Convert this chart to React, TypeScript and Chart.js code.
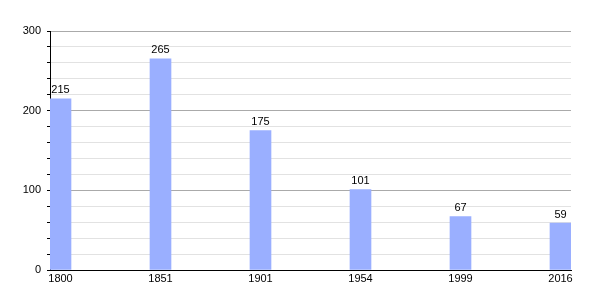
import React, { useEffect, useRef } from "react";
import { Chart, registerables } from "chart.js";

Chart.register(...registerables);

const years = ["1800", "1851", "1901", "1954", "1999", "2016"];
const population = [215, 265, 175, 101, 67, 59];
const yTickStep = 20;
const yMax = 300;

const FONT = "'Liberation Sans', Arial, sans-serif";

const valueLabels = {
  id: "valueLabels",
  afterDatasetsDraw(chart: any) {
    const ctx = chart.ctx;
    const meta = chart.getDatasetMeta(0);
    ctx.save();
    ctx.font = `11px ${FONT}`;
    ctx.fillStyle = "#000";
    ctx.textAlign = "center";
    ctx.textBaseline = "bottom";
    meta.data.forEach((bar: any, i: number) => {
      ctx.fillText(String(population[i]), bar.x, bar.y - 3);
    });
    ctx.restore();
  },
};

export default function App() {
  const ref = useRef<HTMLCanvasElement>(null);
  useEffect(() => {
    if (!ref.current) return;
    const chart = new Chart(ref.current, {
      type: "bar",
      data: {
        datasets: [
          {
            data: population.map((v, i) => ({ x: i, y: v })),
            backgroundColor: "#9aafff",
            barThickness: 21,
          },
        ],
      },
      options: {
        animation: false,
        responsive: false,
        layout: { padding: { top: 31, right: 29, left: 0, bottom: 0 } },
        plugins: { legend: { display: false }, tooltip: { enabled: false } },
        scales: {
          x: {
            type: "linear",
            offset: false,
            min: -0.105,
            max: 5.105,
            afterFit: (s: any) => {
              s.height = 30;
            },
            afterBuildTicks: (s: any) => {
              s.ticks = years.map((_, i) => ({ value: i }));
            },
            ticks: {
              callback: (v: any) => years[v] ?? "",
              color: "#000",
              font: { family: FONT, size: 11 },
              padding: 2,
              maxRotation: 0,
            },
            grid: { display: false, drawTicks: false, offset: false },
            border: { color: "#000", width: 1 },
          },
          y: {
            min: 0,
            max: yMax,
            afterFit: (s: any) => {
              s.width = 50;
            },
            ticks: {
              stepSize: yTickStep,
              autoSkip: false,
              callback: (v: any) => (v % 100 === 0 ? String(v) : ""),
              color: "#000",
              font: { family: FONT, size: 11 },
              padding: 6,
            },
            grid: {
              color: (c: any) =>
                c.tick && c.tick.value === 0
                  ? "rgba(0,0,0,0)"
                  : c.tick && c.tick.value % 100 === 0
                  ? "#aaaaaa"
                  : "#e2e2e2",
              tickColor: "#000",
              tickLength: 3,
              drawTicks: true,
            },
            border: { color: "#000", width: 1 },
          },
        },
      },
      plugins: [valueLabels],
    });
    return () => chart.destroy();
  }, []);
  return (
    <div style={{ position: "fixed", left: 0, top: 0, width: 600, height: 300, background: "#fff" }}>
      <canvas ref={ref} width={600} height={300} style={{ width: 600, height: 300 }} />
    </div>
  );
}
